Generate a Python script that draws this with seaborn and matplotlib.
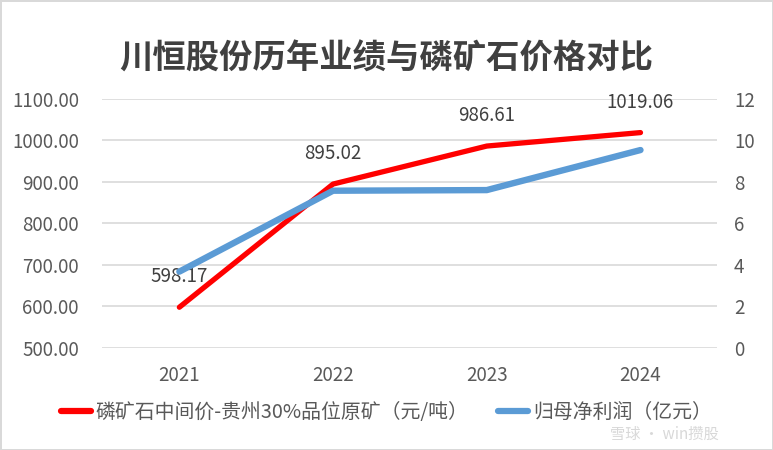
import pandas as pd
import seaborn as sns
import matplotlib.pyplot as plt
from matplotlib.lines import Line2D

years = ["2021", "2022", "2023", "2024"]
ore_price = [598.17, 895.02, 986.61, 1019.06]
net_profit = [3.68, 7.58, 7.61, 9.54]
price_label = "磷矿石中间价-贵州30%品位原矿（元/吨）"
profit_label = "归母净利润（亿元）"

df = pd.DataFrame({"year": years, "price": ore_price, "profit": net_profit})

sns.set_theme(style="white")
plt.rcParams['font.family'] = ['Noto Sans CJK SC', 'DejaVu Sans']
txt = "#595959"

fig = plt.figure(figsize=(7.73, 4.5), dpi=100)
fig.patch.set_edgecolor("#d9d9d9")
fig.patch.set_linewidth(2)
ax = fig.add_axes([0.1326, 0.2267, 0.7954, 0.5533])
ax2 = ax.twinx()

sns.lineplot(data=df, x="year", y="price", ax=ax, color="#ff0000", linewidth=3.8,
             solid_capstyle="round", zorder=3)
sns.lineplot(data=df, x="year", y="profit", ax=ax2, color="#5b9bd5", linewidth=4.6,
             solid_capstyle="round", zorder=3)

ax.set_ylim(500, 1100)
ax.set_yticks(range(500, 1101, 100))
ax.set_yticklabels([f"{v:.2f}" for v in range(500, 1101, 100)])
ax2.set_ylim(0, 12)
ax2.set_yticks(range(0, 13, 2))
ax.set_xlim(-0.5, 3.5)
ax.grid(axis="y", color="#d9d9d9", linewidth=1.2)
ax.set_axisbelow(True)
ax.set_xlabel("")
ax.set_ylabel("")
ax2.set_ylabel("")

for a in (ax, ax2):
    for s in a.spines.values():
        s.set_visible(False)
    a.tick_params(length=0, labelsize=13.5, colors=txt)
ax.tick_params(axis="y", pad=17)
ax.tick_params(axis="x", pad=12)
ax2.tick_params(axis="y", pad=12)
ax2.set_zorder(ax.get_zorder() + 1)

for i, v in enumerate(ore_price):
    ax.annotate(f"{v:.2f}", (i, v), xytext=(0, 22), textcoords="offset points",
                ha="center", va="center", fontsize=13.5, color="#404040")

fig.suptitle("川恒股份历年业绩与磷矿石价格对比", y=0.905, fontsize=24,
             fontweight="bold", color="#404040")

handles = [Line2D([], [], color="#ff0000", linewidth=4.5, solid_capstyle="round"),
           Line2D([], [], color="#5b9bd5", linewidth=4.5, solid_capstyle="round")]
fig.legend(handles, [price_label, profit_label], loc="center", bbox_to_anchor=(0.5, 0.084),
           ncol=2, frameon=False, fontsize=14.3, labelcolor=txt, handlelength=1.5,
           handletextpad=0.25, columnspacing=1.5)

fig.text(0.86, 0.035, "雪球 · win攒股", fontsize=11, color="#c8c8c8", alpha=0.7,
         ha="center", va="center")

fig.savefig("out.png", dpi=100)
plt.close()
